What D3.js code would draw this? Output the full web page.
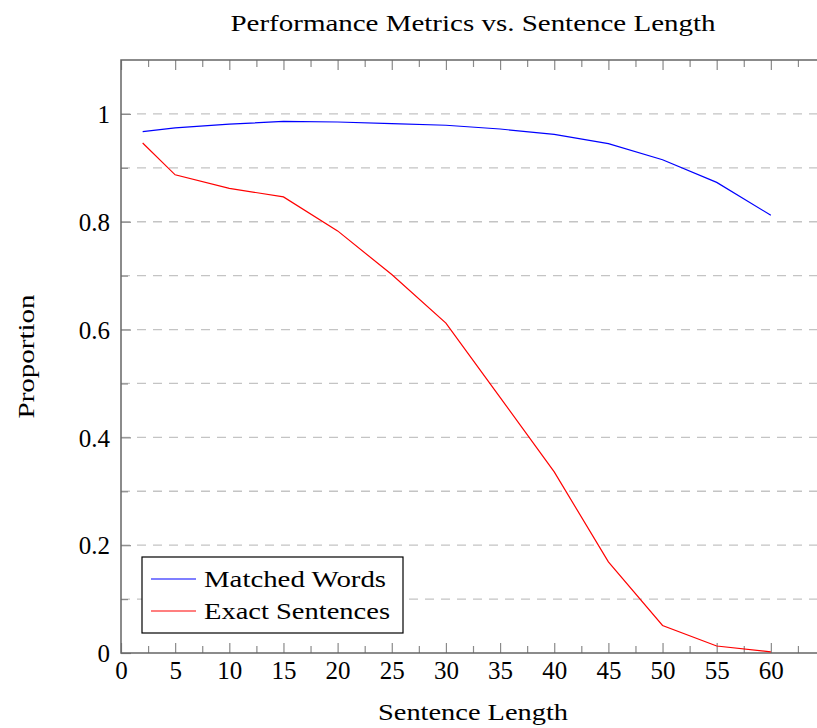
<!DOCTYPE html>
<html>
<head>
<meta charset="utf-8">
<script src="https://cdn.jsdelivr.net/npm/d3@7/dist/d3.min.js"></script>
<style>
body { margin: 0; background: #fff; }
text { font-family: "Liberation Serif", "DejaVu Serif", serif; fill: #000; }
</style>
</head>
<body>
<script>
(function(){

//data
var sentenceLength = [2, 5, 10, 15, 20, 25, 30, 35, 40, 45, 50, 55, 60];
var matchedWords = [0.967, 0.974, 0.981, 0.986, 0.985, 0.982, 0.979, 0.972, 0.962, 0.945, 0.915, 0.873, 0.812];
var exactSentences = [0.946, 0.887, 0.862, 0.846, 0.783, 0.702, 0.612, 0.474, 0.336, 0.169, 0.051, 0.013, 0.002];
var seriesNames = ["Matched Words", "Exact Sentences"];
var seriesColors = ["#0000ff", "#ff0000"];
var xTicks = [0, 5, 10, 15, 20, 25, 30, 35, 40, 45, 50, 55, 60];
var yTicks = [0, 0.2, 0.4, 0.6, 0.8, 1];

//frame
var width = 817, height = 728,
    left = 121, top = 60, right = 825, bottom = 653;

var svg = d3.select("body").append("svg")
    .attr("width", width)
    .attr("height", height);

var x = d3.scaleLinear().domain([0, 65]).range([left, right]);
var y = d3.scaleLinear().domain([0, 1.1]).range([bottom, top]);

//dashed horizontal grid every 0.1
var gridVals = d3.range(1, 11).map(function(d){ return d / 10; });
svg.append("g").selectAll("line")
    .data(gridVals)
    .enter().append("line")
    .attr("x1", left).attr("x2", right)
    .attr("y1", function(d){ return y(d); })
    .attr("y2", function(d){ return y(d); })
    .attr("stroke", "#c4c4c4")
    .attr("stroke-width", 1.3)
    .attr("stroke-dasharray", "9,7");

//minor tick positions
var xMinor = d3.range(2.5, 65, 5);
var yMinor = d3.range(1, 11, 2).map(function(d){ return d / 10; });

function styleAxis(g){
    g.select(".domain").remove();
    g.selectAll(".tick line").attr("stroke", "#8a8a8a").attr("stroke-width", 1.2);
    g.selectAll(".tick text")
        .style("font-family", "'Liberation Serif', 'DejaVu Serif', serif")
        .style("font-size", "25px")
        .attr("fill", "#000");
}

//bottom axis, ticks pointing inward
var xAxis = svg.append("g")
    .attr("transform", "translate(0," + bottom + ")")
    .call(d3.axisBottom(x).tickValues(xTicks).tickSizeInner(-10).tickPadding(8).tickFormat(d3.format("d")));
styleAxis(xAxis);
var xAxisMinor = svg.append("g")
    .attr("transform", "translate(0," + bottom + ")")
    .call(d3.axisBottom(x).tickValues(xMinor).tickSizeInner(-7).tickFormat(""));
styleAxis(xAxisMinor);

//top axis ticks
var xTop = svg.append("g")
    .attr("transform", "translate(0," + top + ")")
    .call(d3.axisTop(x).tickValues(xTicks).tickSizeInner(-10).tickFormat(""));
styleAxis(xTop);
var xTopMinor = svg.append("g")
    .attr("transform", "translate(0," + top + ")")
    .call(d3.axisTop(x).tickValues(xMinor).tickSizeInner(-7).tickFormat(""));
styleAxis(xTopMinor);

//left axis
var yAxis = svg.append("g")
    .attr("transform", "translate(" + left + ",0)")
    .call(d3.axisLeft(y).tickValues(yTicks).tickSizeInner(-10).tickPadding(11)
        .tickFormat(function(d){ return d === 0 ? "0" : d === 1 ? "1" : d3.format(".1f")(d); }));
styleAxis(yAxis);
yAxis.selectAll(".tick text").attr("dy", "0.35em");
var yAxisMinor = svg.append("g")
    .attr("transform", "translate(" + left + ",0)")
    .call(d3.axisLeft(y).tickValues(yMinor).tickSizeInner(-7).tickFormat(""));
styleAxis(yAxisMinor);

//axis frame
svg.append("path")
    .attr("d", "M" + right + "," + top + "H" + left + "V" + bottom + "H" + right)
    .attr("fill", "none")
    .attr("stroke", "#666")
    .attr("stroke-width", 1.5);

//lines
var series = [matchedWords, exactSentences];
var line = d3.line()
    .x(function(d, i){ return x(sentenceLength[i]); })
    .y(function(d){ return y(d); });

svg.selectAll(".series")
    .data(series)
    .enter().append("path")
    .attr("class", "series")
    .attr("d", line)
    .attr("fill", "none")
    .attr("stroke", function(d, i){ return seriesColors[i]; })
    .attr("stroke-width", 1.2);

//legend
var legendWidths = [182, 186];
var legend = svg.append("g").attr("transform", "translate(142,557)");
legend.append("rect")
    .attr("width", 261).attr("height", 76)
    .attr("fill", "#fff")
    .attr("stroke", "#000")
    .attr("stroke-width", 1.2);
var items = legend.selectAll(".item")
    .data(seriesNames)
    .enter().append("g")
    .attr("class", "item")
    .attr("transform", function(d, i){ return "translate(0," + (22 + i * 32) + ")"; });
items.append("line")
    .attr("x1", 9).attr("x2", 54)
    .attr("stroke", function(d, i){ return seriesColors[i]; })
    .attr("stroke-width", 1.2);
items.append("text")
    .attr("x", 62).attr("y", 8)
    .attr("textLength", function(d, i){ return legendWidths[i]; })
    .attr("lengthAdjust", "spacingAndGlyphs")
    .style("font-size", "24px")
    .text(function(d){ return d; });

//title and labels
svg.append("text")
    .attr("x", 473).attr("y", 31)
    .attr("text-anchor", "middle")
    .attr("textLength", 485)
    .attr("lengthAdjust", "spacingAndGlyphs")
    .style("font-size", "24px")
    .text("Performance Metrics vs. Sentence Length");

svg.append("text")
    .attr("x", 473).attr("y", 720)
    .attr("text-anchor", "middle")
    .attr("textLength", 190)
    .attr("lengthAdjust", "spacingAndGlyphs")
    .style("font-size", "24px")
    .text("Sentence Length");

svg.append("text")
    .attr("transform", "translate(34," + ((top + bottom) / 2) + ") rotate(-90)")
    .attr("text-anchor", "middle")
    .attr("textLength", 124)
    .attr("lengthAdjust", "spacingAndGlyphs")
    .style("font-size", "24px")
    .text("Proportion");

})();
</script>
</body>
</html>
